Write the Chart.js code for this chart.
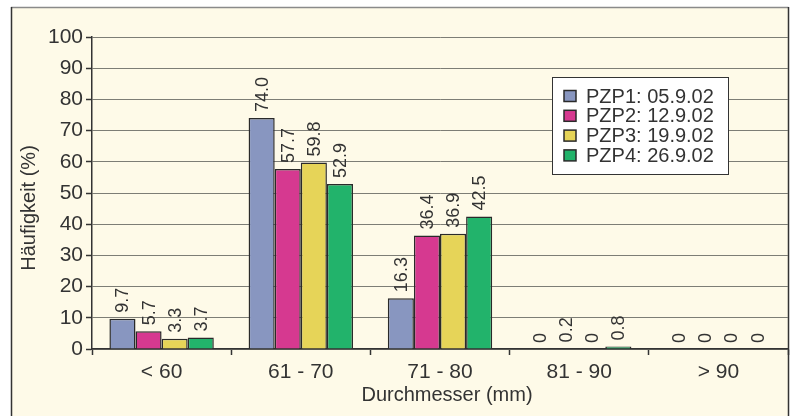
<!DOCTYPE html>
<html>
<head>
<meta charset="utf-8">
<script src="https://cdn.jsdelivr.net/npm/chart.js@4.4.0/dist/chart.umd.min.js"></script>
<style>
html,body{margin:0;padding:0;background:#fff;}
#wrap{width:790px;height:416px;position:relative;}
</style>
</head>
<body>
<div id="wrap"><canvas id="c" width="790" height="416"></canvas></div>
<script>
const categories = ["< 60", "61 - 70", "71 - 80", "81 - 90", "> 90"];
const seriesNames = ["PZP1: 05.9.02", "PZP2: 12.9.02", "PZP3: 19.9.02", "PZP4: 26.9.02"];
const pzp1 = [9.7, 74.0, 16.3, 0, 0];
const pzp2 = [5.7, 57.7, 36.4, 0.2, 0];
const pzp3 = [3.3, 59.8, 36.9, 0, 0];
const pzp4 = [3.7, 52.9, 42.5, 0.8, 0];
const pzp1Labels = ["9.7", "74.0", "16.3", "0", "0"];
const pzp2Labels = ["5.7", "57.7", "36.4", "0.2", "0"];
const pzp3Labels = ["3.3", "59.8", "36.9", "0", "0"];
const pzp4Labels = ["3.7", "52.9", "42.5", "0.8", "0"];
const yTicks = [0, 10, 20, 30, 40, 50, 60, 70, 80, 90, 100];
const xTitle = "Durchmesser (mm)";
const yTitle = "Häufigkeit (%)";

const colors = ["#8896C0", "#D63990", "#E6D458", "#22B36B"];
const FONT = "'Liberation Sans', Arial, sans-serif";
const TXT = "#333333";

const allValues = [pzp1, pzp2, pzp3, pzp4];
const allLabels = [pzp1Labels, pzp2Labels, pzp3Labels, pzp4Labels];

const datasets = allValues.map((v, i) => ({
  label: seriesNames[i],
  data: v,
  backgroundColor: colors[i],
  borderColor: "#2a2a2a",
  borderWidth: 1.5,
  categoryPercentage: 0.75,
  barPercentage: 1.0
}));

const framePlugin = {
  id: "frame",
  beforeDraw(chart) {
    const ctx = chart.ctx;
    ctx.save();
    ctx.fillStyle = "#ffffff";
    ctx.fillRect(0, 0, chart.width, chart.height);
    ctx.fillStyle = "#FEFAE8";
    ctx.fillRect(11, 7, 777, chart.height - 7);
    ctx.strokeStyle = "#8a8a8a";
    ctx.lineWidth = 1.5;
    ctx.beginPath();
    ctx.moveTo(11, 7.5); ctx.lineTo(788.5, 7.5);
    ctx.stroke();
    ctx.strokeStyle = "#333";
    ctx.beginPath();
    ctx.moveTo(11.5, 7); ctx.lineTo(11.5, chart.height);
    ctx.moveTo(788.5, 7); ctx.lineTo(788.5, chart.height);
    ctx.stroke();
    ctx.restore();
  },
  afterDraw(chart) {
    const ctx = chart.ctx;
    const ca = chart.chartArea;
    ctx.save();
    ctx.fillStyle = TXT;
    ctx.font = "20px " + FONT;
    ctx.textAlign = "center";
    ctx.textBaseline = "middle";
    ctx.fillText(xTitle, (ca.left + ca.right) / 2 + 7, 395);
    ctx.translate(29, 208);
    ctx.rotate(-Math.PI / 2);
    ctx.fillText(yTitle, 0, 0);
    ctx.restore();

    // legend
    ctx.save();
    const lx = 552.5, ly = 77.5, lw = 176, lh = 97;
    ctx.fillStyle = "#ffffff";
    ctx.fillRect(lx, ly, lw, lh);
    ctx.strokeStyle = "#333";
    ctx.lineWidth = 1;
    ctx.strokeRect(lx, ly, lw, lh);
    ctx.font = "20px " + FONT;
    ctx.textAlign = "left";
    ctx.textBaseline = "middle";
    chart.data.datasets.forEach((ds, i) => {
      const cy = 96 + i * 19.8;
      ctx.fillStyle = ds.backgroundColor;
      ctx.fillRect(564, cy - 5.5, 12, 11);
      ctx.strokeStyle = "#2a2a2a";
      ctx.lineWidth = 1.5;
      ctx.strokeRect(564, cy - 5.5, 12, 11);
      ctx.fillStyle = TXT;
      ctx.fillText(ds.label, 586, cy + 1);
    });
    ctx.restore();
  },
  afterDatasetsDraw(chart) {
    const ctx = chart.ctx;
    ctx.save();
    ctx.fillStyle = TXT;
    ctx.font = "18px " + FONT;
    ctx.textAlign = "left";
    ctx.textBaseline = "middle";
    chart.data.datasets.forEach((ds, di) => {
      const meta = chart.getDatasetMeta(di);
      meta.data.forEach((el, i) => {
        ctx.save();
        ctx.translate(el.x + 1, el.y - 6);
        ctx.rotate(-Math.PI / 2);
        ctx.fillText(allLabels[di][i], 0, 0);
        ctx.restore();
      });
    });
    ctx.restore();
  }
};

new Chart(document.getElementById("c"), {
  type: "bar",
  data: { labels: categories, datasets },
  options: {
    responsive: false,
    animation: false,
    devicePixelRatio: 1,
    layout: { padding: { top: 37, left: 0, right: 2, bottom: 0 } },
    plugins: { legend: { display: false }, tooltip: { enabled: false } },
    scales: {
      x: {
        grid: { display: true, drawOnChartArea: false, drawTicks: true, tickLength: 6, tickColor: "#333", tickWidth: 1.5, offset: true },
        border: { display: true, color: "#333", width: 1.5 },
        ticks: { font: { size: 21, family: FONT }, color: TXT, padding: 5, maxRotation: 0 },
        afterFit(scale) { scale.height = 67; }
      },
      y: {
        min: 0, max: 100,
        afterBuildTicks(scale) { scale.ticks = yTicks.map(v => ({ value: v })); },
        grid: { color: "#7d7d75", lineWidth: 1, drawTicks: true, tickLength: 6, tickColor: "#333", tickWidth: 1.5 },
        border: { display: true, color: "#333", width: 1.5 },
        ticks: { font: { size: 21, family: FONT }, color: TXT, padding: 3 },
        afterFit(scale) { scale.width = 92; }
      }
    }
  },
  plugins: [framePlugin]
});
</script>
</body>
</html>
